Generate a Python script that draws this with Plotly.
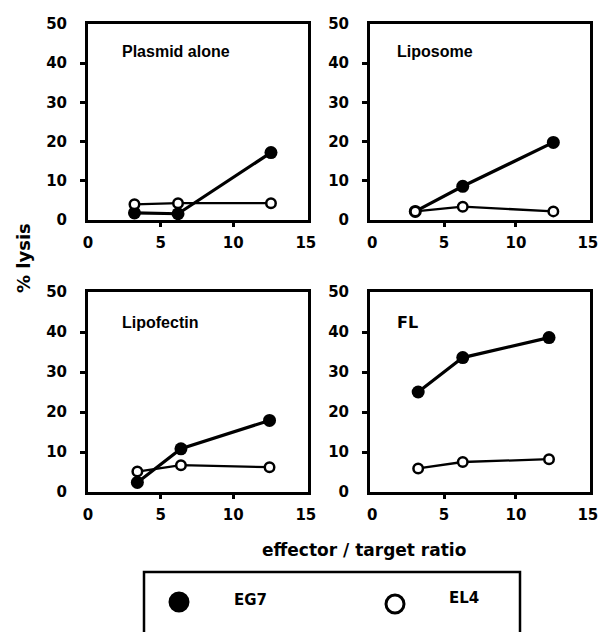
import plotly.graph_objects as go

# Cytotoxicity (% lysis) against effector/target ratio, four immunisation groups
panel_titles = ["Plasmid alone", "Liposome", "Lipofectin", "FL"]

ratio_plasmid = [3.2, 6.2, 12.6]
ratio_liposome = [3.0, 6.3, 12.6]
ratio_lipofectin = [3.4, 6.4, 12.5]
ratio_fl = [3.2, 6.3, 12.3]

eg7_plasmid = [1.8, 1.6, 17.2]
el4_plasmid = [4.0, 4.3, 4.3]
eg7_liposome = [2.2, 8.6, 19.8]
el4_liposome = [2.2, 3.4, 2.2]
eg7_lipofectin = [2.4, 10.8, 17.9]
el4_lipofectin = [5.1, 6.7, 6.2]
eg7_fl = [25.0, 33.6, 38.6]
el4_fl = [5.9, 7.5, 8.2]

x_tick_vals = [0, 5, 10, 15]
y_tick_vals = [0, 10, 20, 30, 40, 50]
# inner tick marks (the end values fall on the frame corners)
x_mark_vals = [5, 10]
y_mark_vals = [10, 20, 30, 40]

ratios = [ratio_plasmid, ratio_liposome, ratio_lipofectin, ratio_fl]
eg7 = [eg7_plasmid, eg7_liposome, eg7_lipofectin, eg7_fl]
el4 = [el4_plasmid, el4_liposome, el4_lipofectin, el4_fl]

W, H = 601, 632
FONT = "DejaVu Sans"

# subplot boxes in pixels: (left, right, top, bottom)
boxes = [(88, 308, 24, 220), (370, 590, 24, 220),
         (88, 308, 292, 492), (370, 590, 292, 492)]
x_ranges = [[0, 15.15], [-0.15, 15.15], [0, 15.15], [-0.15, 15.15]]
y_range = [0, 50]

fig = go.Figure()

for i in range(4):
    sfx = "" if i == 0 else str(i + 1)
    fig.add_trace(go.Scatter(
        x=ratios[i], y=eg7[i], xaxis="x" + sfx, yaxis="y" + sfx,
        mode="lines+markers", name="EG7", showlegend=False,
        line=dict(color="black", width=3.2),
        marker=dict(symbol="circle", size=13, color="black"),
    ))
    fig.add_trace(go.Scatter(
        x=ratios[i], y=el4[i], xaxis="x" + sfx, yaxis="y" + sfx,
        mode="lines+markers", name="EL4", showlegend=False,
        line=dict(color="black", width=2.3),
        marker=dict(symbol="circle", size=9.5, color="white",
                    line=dict(color="black", width=2.5)),
    ))

tickfont = dict(family=FONT, size=15, color="black", weight="bold")
layout = {}
annotations = []
for i, (l, r, t, b) in enumerate(boxes):
    sfx = "" if i == 0 else str(i + 1)
    xdom = [l / W, r / W]
    ydom = [1 - b / H, 1 - t / H]
    # labelled frame axes
    layout["xaxis" + sfx] = dict(
        domain=xdom, range=x_ranges[i], anchor="y" + sfx, automargin=False,
        tickvals=x_tick_vals, ticks="", ticklabelstandoff=7,
        showline=True, mirror=True, linewidth=3, linecolor="black",
        showgrid=False, zeroline=False, tickfont=tickfont,
    )
    layout["yaxis" + sfx] = dict(
        domain=ydom, range=y_range, anchor="x" + sfx, automargin=False,
        tickvals=y_tick_vals, ticks="", ticklabelstandoff=15,
        showline=True, mirror=True, linewidth=3, linecolor="black",
        showgrid=False, zeroline=False, tickfont=tickfont,
    )
    # overlaid axes carrying only the inner tick marks
    xo, yo = str(5 + i), str(5 + i)
    layout["xaxis" + xo] = dict(
        domain=xdom, range=x_ranges[i], anchor="y" + sfx, overlaying="x" + sfx,
        automargin=False,
        tickvals=x_mark_vals, ticks="outside", ticklen=6, tickwidth=3,
        tickcolor="black", showticklabels=False, showline=False,
        showgrid=False, zeroline=False,
    )
    layout["yaxis" + yo] = dict(
        domain=ydom, range=y_range, anchor="x" + sfx, overlaying="y" + sfx,
        automargin=False,
        tickvals=y_mark_vals, ticks="outside", ticklen=7, tickwidth=3,
        tickcolor="black", showticklabels=False, showline=False,
        showgrid=False, zeroline=False,
    )
    fig.add_trace(go.Scatter(x=[], y=[], xaxis="x" + xo, yaxis="y" + sfx,
                             showlegend=False, hoverinfo="skip"))
    fig.add_trace(go.Scatter(x=[], y=[], xaxis="x" + sfx, yaxis="y" + yo,
                             showlegend=False, hoverinfo="skip"))

    label_x = (0.145 if i in (0, 2) else 0.114)
    label_y = 0.862 if i < 2 else 0.85
    annotations.append(dict(
        text=panel_titles[i], xref="x" + sfx + " domain", yref="y" + sfx + " domain",
        x=label_x, y=label_y, xanchor="left", yanchor="middle", showarrow=False,
        font=dict(family="Liberation Sans", size=16, color="black", weight="bold")
        if i < 3 else dict(family=FONT, size=16, color="black", weight="bold"),
    ))

# shared axis titles
annotations.append(dict(
    text="% lysis", xref="paper", yref="paper", x=23 / W, y=1 - 258 / H,
    textangle=-90, showarrow=False, xanchor="center", yanchor="middle",
    font=dict(family=FONT, size=18, color="black", weight="bold"),
))
annotations.append(dict(
    text="effector / target ratio", xref="paper", yref="paper",
    x=364 / W, y=1 - 550 / H, showarrow=False, xanchor="center", yanchor="middle",
    font=dict(family=FONT, size=17, color="black", weight="bold"),
))

# key box with the two series symbols
shapes = [dict(type="rect", xref="paper", yref="paper",
               x0=144 / W, x1=520 / W, y0=-0.05, y1=1 - 572 / H,
               line=dict(color="black", width=2.5), fillcolor="rgba(0,0,0,0)")]
key_items = [("EG7", 179, 602, 232, 600, "black"),
             ("EL4", 395, 604, 447, 598, "white")]
for name, cx, cy, tx, ty, fill in key_items:
    r = 9
    shapes.append(dict(
        type="circle", xref="paper", yref="paper",
        xsizemode="pixel", ysizemode="pixel",
        xanchor=cx / W, yanchor=1 - cy / H,
        x0=-r, x1=r, y0=-r, y1=r,
        fillcolor=fill, line=dict(color="black", width=3),
    ))
    annotations.append(dict(
        text=name, xref="paper", yref="paper", x=tx / W, y=1 - ty / H,
        xanchor="left", yanchor="middle", showarrow=False,
        font=dict(family=FONT, size=15, color="black", weight="bold"),
    ))

fig.update_layout(
    **layout,
    annotations=annotations,
    shapes=shapes,
    width=W, height=H,
    margin=dict(l=0, r=0, t=0, b=0, autoexpand=False),
    paper_bgcolor="white", plot_bgcolor="white",
    showlegend=False,
)

fig.write_html("out.html")
